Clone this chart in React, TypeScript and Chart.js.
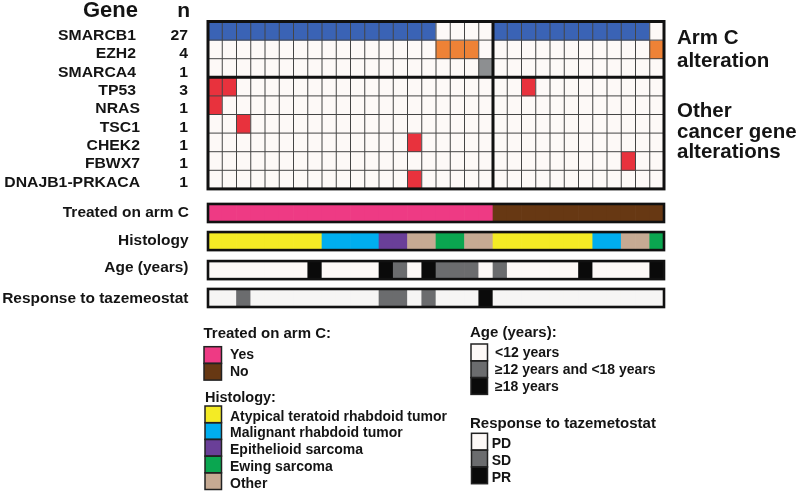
import React, { useEffect, useRef } from 'react';
import { Chart, registerables } from 'chart.js';

Chart.register(...registerables);

// ---------------- DATA ----------------
const sampleIds = [
  'P1', 'P2', 'P3', 'P4', 'P5', 'P6', 'P7', 'P8', 'P9', 'P10', 'P11', 'P12', 'P13', 'P14', 'P15', 'P16',
  'P17', 'P18', 'P19', 'P20', 'P21', 'P22', 'P23', 'P24', 'P25', 'P26', 'P27', 'P28', 'P29', 'P30', 'P31', 'P32',
];

const genes = ['SMARCB1', 'EZH2', 'SMARCA4', 'TP53', 'NRAS', 'TSC1', 'CHEK2', 'FBWX7', 'DNAJB1-PRKACA'];
const geneCounts = [27, 4, 1, 3, 1, 1, 1, 1, 1];

// 1 = altered, 0 = not altered (one entry per sample)
const SMARCB1 = [1, 1, 1, 1, 1, 1, 1, 1, 1, 1, 1, 1, 1, 1, 1, 1, 0, 0, 0, 0, 1, 1, 1, 1, 1, 1, 1, 1, 1, 1, 1, 0];
const EZH2 = [0, 0, 0, 0, 0, 0, 0, 0, 0, 0, 0, 0, 0, 0, 0, 0, 1, 1, 1, 0, 0, 0, 0, 0, 0, 0, 0, 0, 0, 0, 0, 1];
const SMARCA4 = [0, 0, 0, 0, 0, 0, 0, 0, 0, 0, 0, 0, 0, 0, 0, 0, 0, 0, 0, 1, 0, 0, 0, 0, 0, 0, 0, 0, 0, 0, 0, 0];
const TP53 = [1, 1, 0, 0, 0, 0, 0, 0, 0, 0, 0, 0, 0, 0, 0, 0, 0, 0, 0, 0, 0, 0, 1, 0, 0, 0, 0, 0, 0, 0, 0, 0];
const NRAS = [1, 0, 0, 0, 0, 0, 0, 0, 0, 0, 0, 0, 0, 0, 0, 0, 0, 0, 0, 0, 0, 0, 0, 0, 0, 0, 0, 0, 0, 0, 0, 0];
const TSC1 = [0, 0, 1, 0, 0, 0, 0, 0, 0, 0, 0, 0, 0, 0, 0, 0, 0, 0, 0, 0, 0, 0, 0, 0, 0, 0, 0, 0, 0, 0, 0, 0];
const CHEK2 = [0, 0, 0, 0, 0, 0, 0, 0, 0, 0, 0, 0, 0, 0, 1, 0, 0, 0, 0, 0, 0, 0, 0, 0, 0, 0, 0, 0, 0, 0, 0, 0];
const FBWX7 = [0, 0, 0, 0, 0, 0, 0, 0, 0, 0, 0, 0, 0, 0, 0, 0, 0, 0, 0, 0, 0, 0, 0, 0, 0, 0, 0, 0, 0, 1, 0, 0];
const DNAJB1_PRKACA = [0, 0, 0, 0, 0, 0, 0, 0, 0, 0, 0, 0, 0, 0, 1, 0, 0, 0, 0, 0, 0, 0, 0, 0, 0, 0, 0, 0, 0, 0, 0, 0];

const treatedArmC = [
  'Yes', 'Yes', 'Yes', 'Yes', 'Yes', 'Yes', 'Yes', 'Yes', 'Yes', 'Yes', 'Yes', 'Yes', 'Yes', 'Yes', 'Yes', 'Yes',
  'Yes', 'Yes', 'Yes', 'Yes', 'No', 'No', 'No', 'No', 'No', 'No', 'No', 'No', 'No', 'No', 'No', 'No',
];
// ATRT = atypical teratoid rhabdoid tumor, MRT = malignant rhabdoid tumor,
// EPS = epithelioid sarcoma, EWS = Ewing sarcoma, OTH = other
const histology = [
  'ATRT', 'ATRT', 'ATRT', 'ATRT', 'ATRT', 'ATRT', 'ATRT', 'ATRT', 'MRT', 'MRT', 'MRT', 'MRT', 'EPS', 'EPS', 'OTH', 'OTH',
  'EWS', 'EWS', 'OTH', 'OTH', 'ATRT', 'ATRT', 'ATRT', 'ATRT', 'ATRT', 'ATRT', 'ATRT', 'MRT', 'MRT', 'OTH', 'OTH', 'EWS',
];
const ageGroup = [
  '<12', '<12', '<12', '<12', '<12', '<12', '<12', '>=18', '<12', '<12', '<12', '<12', '>=18', '12-18', '<12', '>=18',
  '12-18', '12-18', '12-18', '<12', '12-18', '<12', '<12', '<12', '<12', '<12', '>=18', '<12', '<12', '<12', '<12', '>=18',
];
const responseTaz = [
  'PD', 'PD', 'SD', 'PD', 'PD', 'PD', 'PD', 'PD', 'PD', 'PD', 'PD', 'PD', 'SD', 'SD', 'PD', 'SD',
  'PD', 'PD', 'PD', 'PR', 'PD', 'PD', 'PD', 'PD', 'PD', 'PD', 'PD', 'PD', 'PD', 'PD', 'PD', 'PD',
];

// ---------------- STYLE ----------------
const EMPTY = '#fdf9f7';
const C_BLUE = '#3a63b5';
const C_ORANGE = '#ee8236';
const C_GRAY = '#8d8f91';
const C_RED = '#e8323d';
const geneColors = [C_BLUE, C_ORANGE, C_GRAY, C_RED, C_RED, C_RED, C_RED, C_RED, C_RED];

const treatedColors: Record<string, string> = { Yes: '#ee3a84', No: '#673813' };
const histColors: Record<string, string> = {
  ATRT: '#f4eb25',
  MRT: '#00aeef',
  EPS: '#6a3f98',
  EWS: '#0aa650',
  OTH: '#c6aa93',
};
const ageColors: Record<string, string> = { '<12': EMPTY, '12-18': '#6b6c6e', '>=18': '#0a0a0a' };
const respColors: Record<string, string> = { PD: '#f6f5f4', SD: '#6b6c6e', PR: '#0a0a0a' };

const FONT = '"Liberation Sans", Arial, Helvetica, sans-serif';
const INK = '#141414';

// layout in y-scale units (one gene row = 1 unit)
const TRACK_TOPS = [9.81, 11.32, 12.88, 14.38];
const TRACK_H = 0.97;
const Y_MAX = 15.6;

function buildDatasets() {
  const geneRows = [SMARCB1, EZH2, SMARCA4, TP53, NRAS, TSC1, CHEK2, FBWX7, DNAJB1_PRKACA];
  const ds: any[] = geneRows.map((row, i) => ({
    label: genes[i],
    data: row.map(() => [i, i + 1]),
    backgroundColor: row.map((v) => (v ? geneColors[i] : EMPTY)),
  }));
  const tracks = [
    { label: 'Treated on arm C', vals: treatedArmC, colors: treatedColors },
    { label: 'Histology', vals: histology, colors: histColors },
    { label: 'Age (years)', vals: ageGroup, colors: ageColors },
    { label: 'Response to tazemeostat', vals: responseTaz, colors: respColors },
  ];
  tracks.forEach((t, k) => {
    ds.push({
      label: t.label,
      data: t.vals.map(() => [TRACK_TOPS[k], TRACK_TOPS[k] + TRACK_H]),
      backgroundColor: t.vals.map((v) => t.colors[v]),
    });
  });
  return ds;
}

function text(
  ctx: CanvasRenderingContext2D,
  s: string,
  x: number,
  y: number,
  size: number,
  align: CanvasTextAlign = 'left',
  sx = 1,
) {
  ctx.save();
  ctx.font = `bold ${size}px ${FONT}`;
  ctx.textAlign = align;
  ctx.textBaseline = 'alphabetic';
  ctx.fillStyle = INK;
  ctx.translate(x, y);
  ctx.scale(sx, 1);
  ctx.fillText(s, 0, 0);
  ctx.restore();
}

function swatchGroup(
  ctx: CanvasRenderingContext2D,
  x: number,
  y: number,
  w: number,
  h: number,
  colors: string[],
  labels: string[],
  tx: number,
  off: number,
) {
  colors.forEach((c, i) => {
    ctx.fillStyle = c;
    ctx.fillRect(x, y + i * h, w, h);
  });
  ctx.strokeStyle = '#222';
  ctx.lineWidth = 1.5;
  colors.forEach((_, i) => {
    ctx.strokeRect(x, y + i * h, w, h);
  });
  labels.forEach((l, i) => text(ctx, l, tx, y + i * h + off, 14));
}

const overlayPlugin = {
  id: 'oncoOverlay',
  afterDatasetsDraw(chart: any) {
    const ctx: CanvasRenderingContext2D = chart.ctx;
    const xs = chart.scales.x;
    const ys = chart.scales.y;
    const cw = xs.getPixelForValue(1) - xs.getPixelForValue(0);
    const x0 = xs.getPixelForValue(0) - cw / 2;
    const n = sampleIds.length;
    const x1 = x0 + n * cw;
    const yTop = ys.getPixelForValue(0);
    const yBot = ys.getPixelForValue(genes.length);
    ctx.save();
    // thin grid lines
    ctx.strokeStyle = '#454545';
    ctx.lineWidth = 1;
    ctx.beginPath();
    for (let k = 1; k < n; k++) {
      const x = x0 + k * cw;
      ctx.moveTo(x, yTop);
      ctx.lineTo(x, yBot);
    }
    for (let r = 1; r < genes.length; r++) {
      const y = ys.getPixelForValue(r);
      ctx.moveTo(x0, y);
      ctx.lineTo(x1, y);
    }
    ctx.stroke();
    // thick lines
    ctx.strokeStyle = '#111';
    ctx.lineWidth = 3;
    ctx.strokeRect(x0, yTop, x1 - x0, yBot - yTop);
    ctx.beginPath();
    const yDiv = ys.getPixelForValue(3);
    ctx.moveTo(x0, yDiv);
    ctx.lineTo(x1, yDiv);
    const xDiv = x0 + 20 * cw;
    ctx.moveTo(xDiv, yTop);
    ctx.lineTo(xDiv, yBot);
    ctx.stroke();
    // annotation track borders
    ctx.lineWidth = 2.6;
    TRACK_TOPS.forEach((t) => {
      const a = ys.getPixelForValue(t);
      const b = ys.getPixelForValue(t + TRACK_H);
      ctx.strokeRect(x0, a, x1 - x0, b - a);
    });
    ctx.restore();
  },
  afterDraw(chart: any) {
    const ctx: CanvasRenderingContext2D = chart.ctx;
    const ys = chart.scales.y;
    ctx.save();
    // headers
    text(ctx, 'Gene', 138, 17, 22, 'right');
    text(ctx, 'n', 190, 17, 21, 'right');
    genes.forEach((g, i) => {
      const base = ys.getPixelForValue(i + 0.5) + 9.1 - 0.25 * i;
      text(ctx, g, i < 4 ? 136 : 140, base, 15, 'right', 1.05);
      text(ctx, String(geneCounts[i]), 188, base, 15, 'right', 1.05);
    });
    // right side group labels
    text(ctx, 'Arm C', 677, 44, 20.5);
    text(ctx, 'alteration', 677, 66.7, 20.5);
    text(ctx, 'Other', 677, 116.7, 20.5);
    text(ctx, 'cancer gene', 677, 137.5, 20.5);
    text(ctx, 'alterations', 677, 158, 20.5);
    // track labels
    text(ctx, 'Treated on arm C', 189, 216.7, 15, 'right', 1.03);
    text(ctx, 'Histology', 188.5, 245, 15, 'right', 1.03);
    text(ctx, 'Age (years)', 188.5, 272, 15, 'right', 1.03);
    text(ctx, 'Response to tazemeostat', 188.5, 302.5, 15, 'right', 1.03);
    // legends
    text(ctx, 'Treated on arm C:', 203.5, 337.7, 15);
    swatchGroup(ctx, 204, 346.7, 17.5, 16.7, [treatedColors.Yes, treatedColors.No], ['Yes', 'No'], 230, 12.6);
    text(ctx, 'Histology:', 205, 401.7, 14.5);
    swatchGroup(
      ctx,
      205,
      406,
      16.5,
      16.7,
      [histColors.ATRT, histColors.MRT, histColors.EPS, histColors.EWS, histColors.OTH],
      ['Atypical teratoid rhabdoid tumor', 'Malignant rhabdoid tumor', 'Epithelioid sarcoma', 'Ewing sarcoma', 'Other'],
      230,
      14.7,
    );
    text(ctx, 'Age (years):', 470, 337.3, 15);
    swatchGroup(
      ctx,
      471,
      344,
      16.5,
      16.8,
      [ageColors['<12'], ageColors['12-18'], ageColors['>=18']],
      ['<12 years', '\u226512 years and <18 years', '\u226518 years'],
      495,
      13.3,
    );
    text(ctx, 'Response to tazemetostat', 470, 427.7, 15);
    swatchGroup(
      ctx,
      471.5,
      433.3,
      16,
      16.8,
      [EMPTY, respColors.SD, respColors.PR],
      ['PD', 'SD', 'PR'],
      491.7,
      15,
    );
    ctx.restore();
  },
};

export default function App() {
  const ref = useRef<HTMLCanvasElement | null>(null);
  useEffect(() => {
    if (!ref.current) return;
    const chart = new Chart(ref.current, {
      type: 'bar',
      data: { labels: sampleIds, datasets: buildDatasets() },
      options: {
        animation: false,
        responsive: false,
        maintainAspectRatio: false,
        indexAxis: 'x',
        layout: { padding: { left: 208, right: 134, top: 21.5, bottom: 180.34 } },
        datasets: {
          bar: {
            grouped: false,
            categoryPercentage: 1,
            barPercentage: 1,
            borderWidth: 0,
            borderSkipped: false,
          },
        },
        scales: {
          x: { type: 'category', display: false, offset: true },
          y: { type: 'linear', display: false, reverse: true, min: 0, max: Y_MAX },
        },
        plugins: { legend: { display: false }, tooltip: { enabled: false } },
      },
      plugins: [overlayPlugin],
    } as any);
    return () => chart.destroy();
  }, []);
  return (
    <div style={{ position: 'fixed', left: 0, top: 0, width: 798, height: 492, background: '#fff' }}>
      <canvas ref={ref} width={798} height={492} style={{ width: 798, height: 492, display: 'block' }} />
    </div>
  );
}
